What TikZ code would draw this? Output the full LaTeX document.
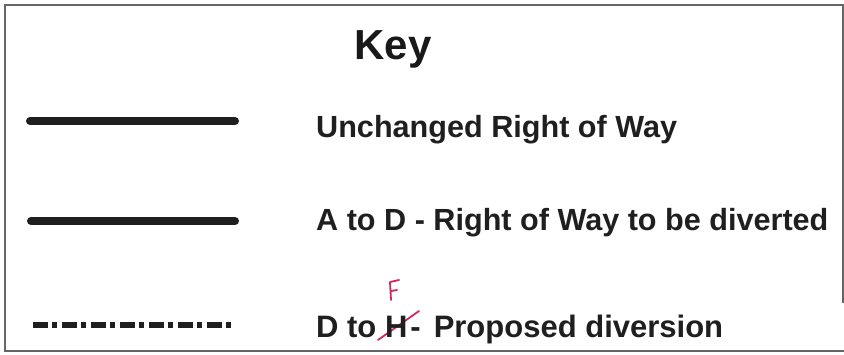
\documentclass[tikz,border=0pt]{standalone}
\usepackage{fontspec}
\setmainfont{Liberation Sans}
\begin{document}
\begin{tikzpicture}[x=1pt,y=-1pt,
  keytext/.style={anchor=base west,inner sep=0pt,font=\fontsize{30.6}{30.6}\selectfont\bfseries,text=black!88},
  solidline/.style={line width=8pt,line cap=round,draw=black!88},
  dashdotline/.style={line width=6pt,draw=black!88,dash pattern=on 15pt off 4pt on 5pt off 5pt},
  redink/.style={draw={rgb,255:red,205;green,40;blue,95},line width=1.8pt,line cap=round,line join=round},
  frame/.style={draw=black!60,line width=2pt}]
\useasboundingbox (0,0) rectangle (844,354);
\fill[white] (0,0) rectangle (844,354);
% frame
\draw[frame] (843,303) -- (843,4.5) -- (4.5,4.5) -- (4.5,351) -- (844,351);
% title
\node[anchor=base,inner sep=0pt,font=\fontsize{42}{42}\selectfont\bfseries,text=black!90] (title) at (393,59) {Key};
% line samples
\coordinate (l1a) at (30,121); \coordinate (l1b) at (235,121);
\coordinate (l2a) at (31,221); \coordinate (l2b) at (235,221);
\coordinate (l3a) at (33,325); \coordinate (l3b) at (233,325);
\draw[solidline] (l1a) -- (l1b);
\draw[solidline] (l2a) -- (l2b);
\draw[dashdotline] (l3a) -- (l3b);
% red correction under the text
\coordinate (ra) at (378,340); \coordinate (rb) at (419,311);
\draw[redink] (ra) -- (rb);
% labels
\node[keytext] (t1) at (316,137) {Unchanged Right of Way};
\node[keytext] (t2) at (316,230) {A to D - Right of Way to be diverted};
\node[keytext,font=\fontsize{31}{31}\selectfont\bfseries] (t3) at (316,337) {D to H\hspace{3pt}-\hspace{13pt}Proposed diversion};
% handwritten F
\coordinate (f1) at (390,282); \coordinate (f2) at (391,300);
\coordinate (f3) at (399,280); \coordinate (f4) at (391,291); \coordinate (f5) at (397,290);
\draw[redink] (f2) -- (f1) -- (f3);
\draw[redink] (f4) -- (f5);
\end{tikzpicture}
\end{document}
